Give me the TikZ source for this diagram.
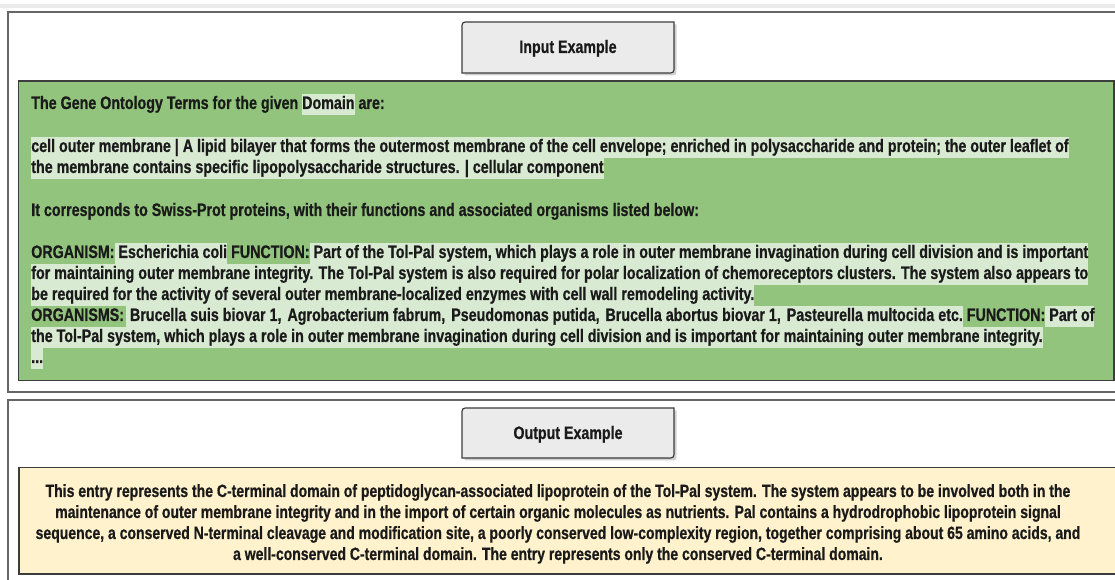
\documentclass[tikz,border=0pt]{standalone}
\usepackage{fontspec}
\setmainfont{Liberation Sans}[FakeStretch=0.79, BoldFeatures={FakeBold=0.7}]
\definecolor{boxgreen}{HTML}{93C47D}
\definecolor{hlgreen}{HTML}{D9EAD3}
\definecolor{boxyellow}{HTML}{FFF2CC}
\definecolor{tabgray}{HTML}{EBEBEB}
\definecolor{framegray}{HTML}{666666}
\definecolor{ink}{HTML}{1A1A1A}
\newdimen\pxu \pxu=0.75pt
\newcommand\hlx[1]{{\setlength\fboxsep{0pt}\colorbox{hlgreen}{\rule[-6\pxu]{0pt}{21\pxu}#1}}}
\newcommand\dsp{\ \hspace{2\pxu}}
\begin{document}
\begin{tikzpicture}[x=0.75pt,y=-0.75pt,
  txt/.style={font=\fontsize{13.55}{15.75}\selectfont\bfseries, text=ink, inner sep=0pt, anchor=base west},
  ctxt/.style={font=\fontsize{13.3}{15.75}\selectfont\bfseries, text=ink, inner sep=0pt, anchor=base},
  tabtxt/.style={font=\fontsize{13.5}{15.75}\selectfont\bfseries, text=ink, inner sep=0pt, anchor=base},
  frame/.style={draw=framegray, line width=1.5pt},
  tab/.style={fill=tabgray, draw=ink!85, line width=0.9pt},
  tabshadow/.style={fill=black, opacity=0.18}]
\useasboundingbox (0,0) rectangle (1115,580);
\clip (0,0) rectangle (1115,580);
\fill[white] (0,0) rectangle (1115,580);
\fill[black!8] (0,4) rectangle (1115,8);
% outer frames
\draw[frame] (7.5,12) rectangle (1135,392);
\draw[frame] (8,400) rectangle (1135,600);
% input tab
\fill[tabshadow] (464.5,75.5) -- (464.5,31.5) .. controls (464.5,24.5) .. (471.5,24.5) -- (676.5,24.5) -- (676.5,68.5) .. controls (676.5,75.5) .. (669.5,75.5) -- cycle;
\draw[tab] (462,73) -- (462,29) .. controls (462,22) .. (469,22) -- (674,22) -- (674,66) .. controls (674,73) .. (667,73) -- cycle;
\node[tabtxt] (inlabel) at (568,53) {Input Example};
% green box
\draw[fill=boxgreen, draw=ink!85, line width=1pt] (18.5,81) rectangle (1114,380.5);
\node[txt] (g1) at (31,109) {The Gene Ontology Terms for the given \hlx{Domain} are:};
\node[txt] (g2) at (31,152) {\hlx{cell outer membrane | A lipid bilayer that forms the outermost membrane of the cell envelope; enriched in polysaccharide and protein; the outer leaflet of}};
\node[txt] (g3) at (31,173) {\hlx{the membrane contains specific lipopolysaccharide structures. | cellular component}};
\node[txt] (g4) at (31,216) {It corresponds to Swiss-Prot proteins, with their functions and associated organisms listed below:};
\node[txt] (g5) at (31,258) {ORGANISM:\hlx{ Escherichia coli} FUNCTION:\hlx{ Part of the Tol-Pal system, which plays a role in outer membrane invagination during cell division and is important}};
\node[txt] (g6) at (31,279) {\hlx{for maintaining outer membrane integrity. The Tol-Pal system is also required for polar localization of chemoreceptors clusters. The system also appears to}};
\node[txt] (g7) at (31,300) {\hlx{be required for the activity of several outer membrane-localized enzymes with cell wall remodeling activity.}};
\node[txt] (g8) at (31,321) {ORGANISMS:\hspace{2\pxu}\hlx{ Brucella suis biovar 1,\dsp Agrobacterium fabrum,\dsp Pseudomonas putida,\dsp Brucella abortus biovar 1,\dsp Pasteurella multocida etc.} FUNCTION:\hlx{ Part of}};
\node[txt] (g9) at (31,342) {\hlx{the Tol-Pal system, which plays a role in outer membrane invagination during cell division and is important for maintaining outer membrane integrity.}};
\node[txt] (g10) at (31,363) {\hlx{...}};
% output tab
\fill[tabshadow] (464.5,460.5) -- (464.5,417.5) .. controls (464.5,410.5) .. (471.5,410.5) -- (676.5,410.5) -- (676.5,453.5) .. controls (676.5,460.5) .. (669.5,460.5) -- cycle;
\draw[tab] (462,458) -- (462,415) .. controls (462,408) .. (469,408) -- (674,408) -- (674,451) .. controls (674,458) .. (667,458) -- cycle;
\node[tabtxt] (outlabel) at (568,439) {Output Example};
% yellow box
\draw[fill=boxyellow, draw=ink!85, line width=1pt] (19,467.5) rectangle (1135,574);
\node[ctxt] (y1) at (558,497) {This entry represents the C-terminal domain of peptidoglycan-associated lipoprotein of the Tol-Pal system. The system appears to be involved both in the};
\node[ctxt] (y2) at (558,518) {maintenance of outer membrane integrity and in the import of certain organic molecules as nutrients. Pal contains a hydrodrophobic lipoprotein signal};
\node[ctxt] (y3) at (558,539) {sequence, a conserved N-terminal cleavage and modification site, a poorly conserved low-complexity region, together comprising about 65 amino acids, and};
\node[ctxt] (y4) at (558,560) {a well-conserved C-terminal domain. The entry represents only the conserved C-terminal domain.};
\end{tikzpicture}
\end{document}
